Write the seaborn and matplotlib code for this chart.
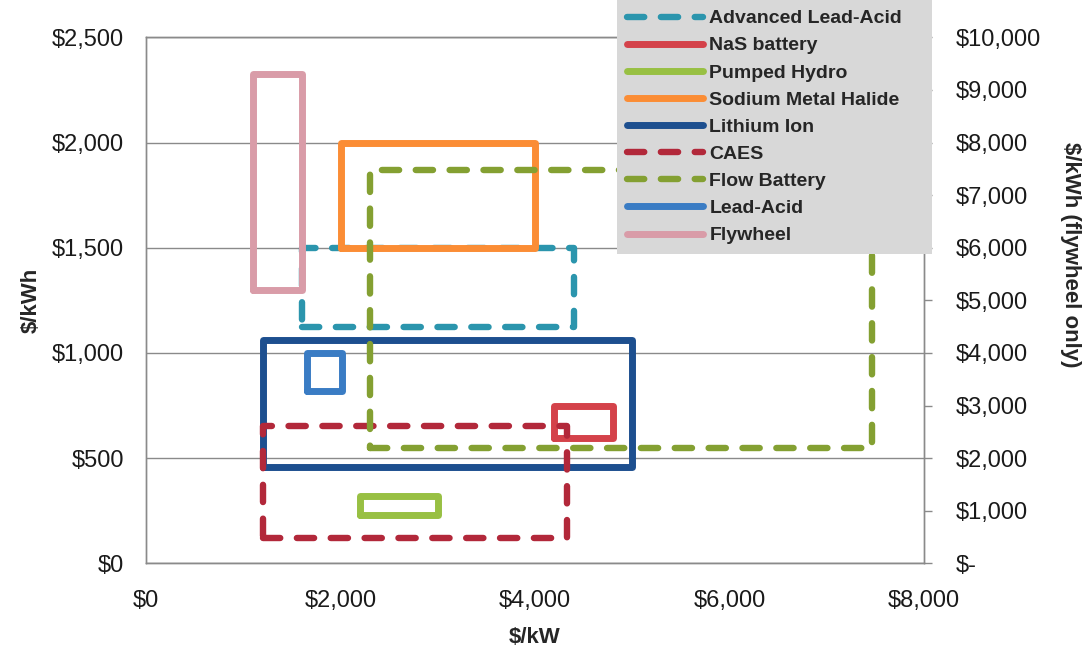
import numpy as np
import pandas as pd
from matplotlib import pyplot as plt
from matplotlib.ticker import FuncFormatter, MultipleLocator
import seaborn as sb

sb.set_theme(style='white')
plt.rcParams['font.family'] = ['Liberation Sans', 'DejaVu Sans']
plt.rcParams['text.parse_math'] = False

# storage technologies: cost ranges ($/kW on x, $/kWh on y)
techs = ['Advanced Lead-Acid', 'NaS battery', 'Pumped Hydro', 'Sodium Metal Halide',
         'Lithium Ion', 'CAES', 'Flow Battery', 'Lead-Acid', 'Flywheel']
kw_low = [1600, 4200, 2200, 2000, 1200, 1200, 2300, 1660, 1100]
kw_high = [4400, 4800, 3000, 4000, 5000, 4330, 7460, 2020, 1600]
kwh_low = [1125, 595, 230, 1500, 460, 120, 548, 820, 5200]
kwh_high = [1500, 750, 322, 2000, 1062, 653, 1870, 1000, 9310]
# flywheel is read against the right axis
right_axis = ['Flywheel']

colors = {'Advanced Lead-Acid': '#2b95ad', 'NaS battery': '#d4424a', 'Pumped Hydro': '#98c043',
          'Sodium Metal Halide': '#fb8d35', 'Lithium Ion': '#1d4f8f', 'CAES': '#b2283a',
          'Flow Battery': '#84a032', 'Lead-Acid': '#3a7cc4', 'Flywheel': '#d99ca8'}
dashed = ['Advanced Lead-Acid', 'CAES', 'Flow Battery']

fig = plt.figure(figsize=(10.88, 6.51), dpi=100)
ax = fig.add_axes([0.1342, 0.1346, 0.7151, 0.8081])
ax2 = ax.twinx()

for i, name in enumerate(techs):
	xs = [kw_low[i], kw_high[i], kw_high[i], kw_low[i], kw_low[i]]
	ys = [kwh_low[i], kwh_low[i], kwh_high[i], kwh_high[i], kwh_low[i]]
	target = ax2 if name in right_axis else ax
	if name in dashed:
		style = dict(linestyle=(0, (2.7, 2.6)), lw=4.6, dash_capstyle='round', dash_joinstyle='round')
	else:
		style = dict(linestyle='-', lw=5, solid_capstyle='round', solid_joinstyle='round')
	sb.lineplot(x=xs, y=ys, sort=False, estimator=None, ax=target, color=colors[name],
				label=name, legend=False, **style)

grid_col = '#8a8a8a'
ax.set_xlim(0, 8000)
ax.set_ylim(0, 2500)
ax2.set_ylim(0, 10000)
ax.xaxis.set_major_locator(MultipleLocator(2000))
ax.yaxis.set_major_locator(MultipleLocator(500))
ax2.yaxis.set_major_locator(MultipleLocator(1000))
ax.xaxis.set_major_formatter(FuncFormatter(lambda v, p: '${:,.0f}'.format(v)))
ax.yaxis.set_major_formatter(FuncFormatter(lambda v, p: '${:,.0f}'.format(v)))
ax2.yaxis.set_major_formatter(FuncFormatter(lambda v, p: '$-' if v == 0 else '${:,.0f}'.format(v)))

ax.yaxis.grid(True, color=grid_col, lw=1)
ax.xaxis.grid(False)
ax2.grid(False)
for a in (ax, ax2):
	for s in a.spines.values():
		s.set_color(grid_col)
		s.set_linewidth(1)

ax.tick_params(axis='y', length=0, pad=16, labelsize=17, labelcolor='#1a1a1a')
ax.tick_params(axis='x', length=0, pad=19, labelsize=17, labelcolor='#1a1a1a')
ax2.tick_params(axis='y', length=6, width=1, color=grid_col, direction='out', pad=17,
				labelsize=17, labelcolor='#1a1a1a')

ax.set_xlabel('$/kW', fontsize=16, fontweight='bold', labelpad=11)
ax.set_ylabel('$/kWh', fontsize=16, fontweight='bold', labelpad=7)
ax2.set_ylabel('$/kWh (flywheel only)', fontsize=16, fontweight='bold', rotation=270,
			   va='center', ha='center')
ax2.yaxis.set_label_coords(1.188, 0.586)

h1, l1 = ax.get_legend_handles_labels()
h2, l2 = ax2.get_legend_handles_labels()
leg = fig.legend(h1 + h2, l1 + l2, loc='upper left', bbox_to_anchor=(617 / 1088, 0.6, 315 / 1088, 0.4),
				 mode='expand', borderaxespad=0, frameon=True, fancybox=False,
				 facecolor='#d8d8d8', edgecolor='none', framealpha=1,
				 prop={'weight': 'bold', 'size': 14}, handlelength=3.9, handletextpad=0.35,
				 labelspacing=0.49, borderpad=0.5)

plt.savefig('out.png', dpi=100)
